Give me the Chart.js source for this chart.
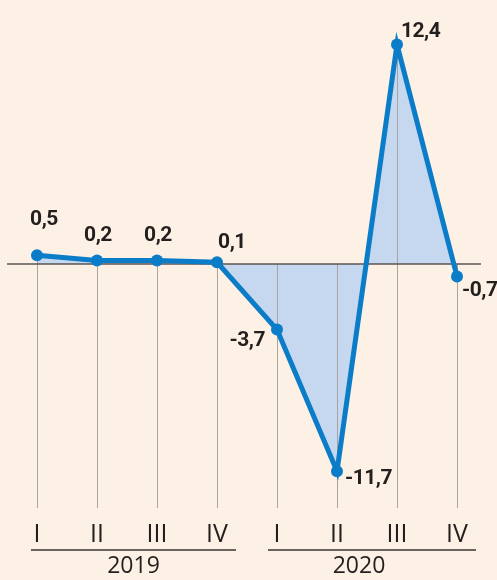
<!DOCTYPE html>
<html>
<head>
<meta charset="utf-8">
<script src="https://cdn.jsdelivr.net/npm/chart.js@4.4.0/dist/chart.umd.min.js"></script>
<style>
  html, body { margin: 0; padding: 0; background: #fdf0e5; }
  #wrap { width: 497px; height: 580px; }
</style>
</head>
<body>
<div id="wrap"><canvas id="pil"></canvas></div>
<script>
// Variazione trimestrale del PIL (%)
const quarters = ['I', 'II', 'III', 'IV', 'I', 'II', 'III', 'IV'];
const years = ['2019', '2020'];
const values = [0.5, 0.2, 0.2, 0.1, -3.7, -11.7, 12.4, -0.7];

// label offsets relative to each point (dx, dy, align)
const labelPos = [
    [7, -35, 'center'], [1, -25, 'center'], [1, -25, 'center'], [15, -20, 'center'],
    [-12, 11, 'right'], [8, 8, 'left'], [4, -13, 'left'], [5, 14, 'left']
];

const decorations = {
    id: 'decorations',
    beforeDatasetsDraw(chart) {
        const { ctx, chartArea } = chart;
        const x = chart.scales.x, y = chart.scales.y;
        const y0 = y.getPixelForValue(0);
        ctx.save();
        // vertical lines from the point (or zero) down
        ctx.strokeStyle = '#a9a4a0';
        ctx.lineWidth = 1;
        values.forEach((v, i) => {
            const px = Math.round(x.getPixelForValue(i)) + 0.5;
            ctx.beginPath();
            ctx.moveTo(px, y.getPixelForValue(Math.max(v, 0)));
            ctx.lineTo(px, chartArea.bottom);
            ctx.stroke();
        });
        // zero line
        ctx.strokeStyle = '#5a5552';
        ctx.lineWidth = 1.5;
        ctx.beginPath();
        ctx.moveTo(chartArea.left, y0);
        ctx.lineTo(x.getPixelForValue(7) + 24, y0);
        ctx.stroke();
        ctx.restore();
    },
    afterDatasetsDraw(chart) {
        const { ctx } = chart;
        const x = chart.scales.x, y = chart.scales.y;
        ctx.save();
        ctx.fillStyle = '#231f1e';
        ctx.font = 'bold 21px Roboto, "Liberation Sans", sans-serif';
        ctx.letterSpacing = '-0.5px';
        ctx.textBaseline = 'middle';
        values.forEach((v, i) => {
            const p = labelPos[i];
            ctx.textAlign = p[2];
            ctx.fillText(String(v).replace('.', ','), x.getPixelForValue(i) + p[0], y.getPixelForValue(v) + p[1]);
        });
        ctx.letterSpacing = '0px';
        // year groups
        const yy = 550;
        ctx.strokeStyle = '#3a3533';
        ctx.lineWidth = 1.5;
        const groups = [[0, 3, -6, 19], [4, 7, -9, 19]];
        ctx.font = '23px "Open Sans", sans-serif';
        ctx.textAlign = 'center';
        groups.forEach((g, k) => {
            const a = x.getPixelForValue(g[0]) + g[2];
            const b = x.getPixelForValue(g[1]) + g[3];
            ctx.beginPath();
            ctx.moveTo(a, yy);
            ctx.lineTo(b, yy);
            ctx.stroke();
            ctx.fillText(years[k], (a + b) / 2 - (k ? 13 : 0), 566);
        });
        ctx.restore();
    }
};

new Chart(document.getElementById('pil'), {
    type: 'line',
    data: {
        labels: quarters,
        datasets: [{
            data: values,
            borderColor: '#0b7cc8',
            borderWidth: 5,
            backgroundColor: '#c6d8ef',
            fill: 'origin',
            tension: 0,
            pointRadius: 6,
            pointBackgroundColor: '#0b7cc8',
            pointBorderWidth: 0,
            clip: false
        }]
    },
    options: {
        responsive: true,
        maintainAspectRatio: false,
        animation: false,
        layout: { padding: { left: 7, right: 10, top: 0, bottom: 26 } },
        plugins: {
            legend: { display: false },
            tooltip: { enabled: false },
            filler: { drawTime: 'beforeDatasetsDraw' }
        },
        scales: {
            x: {
                offset: true,
                grid: { display: false },
                border: { display: false },
                ticks: {
                    padding: 4,
                    color: '#231f1e',
                    font: { family: '"Open Sans", sans-serif', size: 25, weight: 400 }
                }
            },
            y: {
                display: false,
                min: -13.78,
                max: 14.58
            }
        }
    },
    plugins: [decorations]
});
</script>
</body>
</html>
